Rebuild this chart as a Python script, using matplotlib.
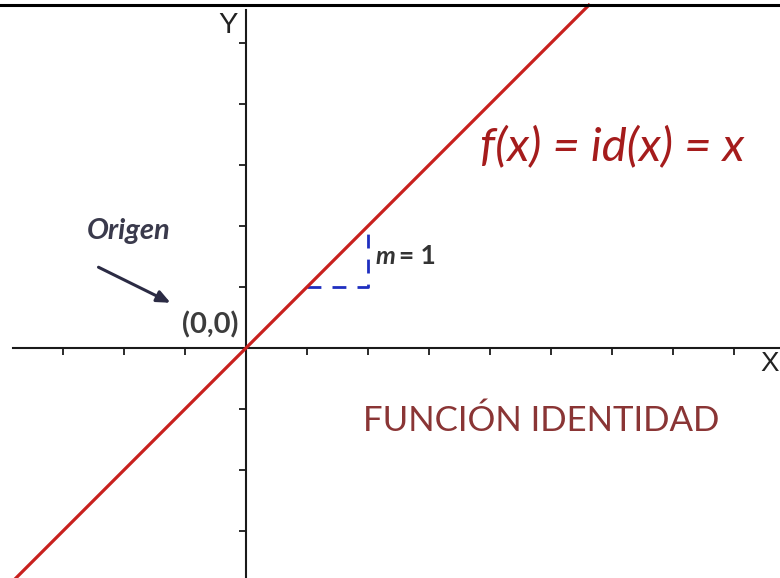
import matplotlib.pyplot as plt
import numpy as np

# datos de la recta identidad
x_recta = np.array([-4.5, 5.62])
y_recta = x_recta.copy()
# triangulo de pendiente m = 1
x_tri = [1, 2, 2]
y_tri = [1, 1, 2]
# marcas de los ejes
ticks_x = [-3, -2, -1, 1, 2, 3, 4, 5, 6, 7, 8]
ticks_y = [-3, -2, -1, 1, 2, 3, 4, 5]

unidad = 61.0
x0, y0 = 246.0, 348.0
W, H = 780, 578
xmin, xmax = -x0 / unidad, (W - x0) / unidad
ymin, ymax = -(H - y0) / unidad, y0 / unidad

fig = plt.figure(figsize=(7.8, 5.78), dpi=100)
ax = fig.add_axes([0, 0, 1, 1])
ax.set_xlim(xmin, xmax)
ax.set_ylim(ymin, ymax)

for s in ['top', 'right']:
    ax.spines[s].set_visible(False)
ax.spines['left'].set_position(('data', 0))
ax.spines['bottom'].set_position(('data', 0))
ax.spines['left'].set_bounds(ymin, (y0 - 10) / unidad)
ax.spines['bottom'].set_bounds(xmin + 13 / unidad, xmax)
for s in ['left', 'bottom']:
    ax.spines[s].set_linewidth(1.5)
    ax.spines[s].set_color('#1a1a1a')
ax.set_xticks(ticks_x)
ax.set_yticks(ticks_y)
ax.tick_params(direction='out', length=5, width=1.3, color='#1a1a1a',
               labelbottom=False, labelleft=False)

# recta roja
ax.plot(x_recta, y_recta, color='#c8201e', linewidth=2.3, zorder=3)
# triangulo discontinuo
ax.plot(x_tri, y_tri, color='#1f2fc0', linewidth=2, linestyle=(0, (5, 4)), zorder=2)

# linea superior
ax.axhline((y0 - 5.5) / unidad, color='black', linewidth=2.2, zorder=5)

fuente = ['Lato', 'DejaVu Sans']
ax.text(-0.13, (y0 - 25) / unidad, 'Y', fontsize=21, family='Liberation Sans',
        ha='right', va='center', color='#222222')
ax.text((760 - x0) / unidad, -(364 - y0) / unidad, 'X', fontsize=20, family='Liberation Sans',
        ha='left', va='center', color='#222222')
ax.text((612 - x0) / unidad, (y0 - 147) / unidad, 'f(x) = id(x) = x', fontsize=34,
        family=fuente, style='italic', color='#a51c1c', ha='center', va='center')
ax.text((541 - x0) / unidad, -(421 - y0) / unidad, 'FUNCIÓN IDENTIDAD', fontsize=25,
        family=fuente, color='#8a3535', ha='center', va='center')
ax.text((129 - x0) / unidad, (y0 - 231) / unidad, 'Origen', fontsize=21,
        family=fuente, style='italic', weight='bold', color='#3a3a4c', ha='center', va='center')
ax.text((210 - x0) / unidad, (y0 - 325) / unidad, '(0,0)', fontsize=21,
        family=fuente, weight='bold', color='#3c3c3c', ha='center', va='center')
ax.text((376 - x0) / unidad, (y0 - 256) / unidad, 'm', fontsize=18,
        family=fuente, style='italic', weight='bold', color='#333333', ha='left', va='center')
ax.text((399 - x0) / unidad, (y0 - 256) / unidad, '= 1', fontsize=19,
        family=fuente, weight='bold', color='#333333', ha='left', va='center')
ax.annotate('', xy=((173 - x0) / unidad, (y0 - 304) / unidad),
            xytext=((96 - x0) / unidad, (y0 - 266) / unidad),
            arrowprops=dict(arrowstyle='-|>,head_length=0.8,head_width=0.35',
                            color='#2b2b44', linewidth=2.2))

plt.savefig('out.png', dpi=100)
